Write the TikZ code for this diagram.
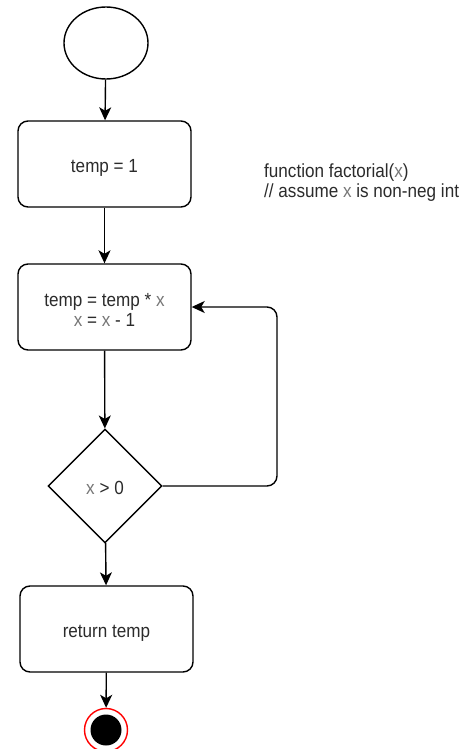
\documentclass[tikz,border=0pt]{standalone}
\usepackage{fontspec}
\setmainfont[FakeStretch=0.9]{Liberation Sans}
\usetikzlibrary{arrows.meta,shapes.geometric}
\definecolor{txt}{HTML}{2B2B2B}
\definecolor{var}{HTML}{777777}
\definecolor{endred}{HTML}{FF0000}
\newcommand{\vx}{\textcolor{var}{x}}
\begin{document}
\begin{tikzpicture}[x=1pt,y=-1pt,
  font=\fontsize{19}{20}\selectfont,
  every node/.style={text=txt},
  line/.style={line width=1.4pt, draw=black},
  flow/.style={line, -{Stealth[length=13pt,width=12pt,inset=3.5pt]}},
  oneline/.style={text height=17pt, text depth=0pt},
  actbox/.style={line, rounded corners=10pt, minimum width=173pt, minimum height=86pt, align=center, inner sep=0pt},
  decbox/.style={line, diamond, minimum width=114pt, minimum height=114pt, inner sep=0pt},
  startnode/.style={line, ellipse, minimum width=84pt, minimum height=72pt, inner sep=0pt}]
\useasboundingbox (0,0) rectangle (467,749);

% start state
\node[startnode] (start) at (106,43) {};

% activities
\node[actbox, oneline] (init) at (104.5,164) {temp = 1};
\node[actbox, text height=38pt, text depth=0pt] (body) at (104.5,307) {temp = temp * \vx\\\vx{} = \vx{} - 1};
\node[decbox, oneline, text height=16pt] (test) at (105,486) {\vx{} > 0};
\node[actbox, oneline, text height=16pt] (ret) at (106.5,629) {return temp};

% final state: red ring, white gap, black disc
\node[circle, draw=endred, line width=1.4pt, fill=white, minimum size=43pt, inner sep=0pt] (stop) at (106,730) {};
\fill[black] (stop.center) circle[radius=15.5pt];

% comment
\node[anchor=base west, align=left, inner sep=0pt] (note) at (264,197)
  {function factorial(\vx)\\// assume \vx{} is non-neg int};

% connectors
\coordinate (turn) at (277,486);
\draw[flow] (start) -- (init);
\draw[flow] (init) -- (body);
\draw[flow] (body) -- (test);
\draw[flow, rounded corners=10pt] (test.east) -- (turn) |- (body.east);
\draw[flow] (test) -- (ret);
\draw[flow] (ret) -- (stop);
\end{tikzpicture}
\end{document}
